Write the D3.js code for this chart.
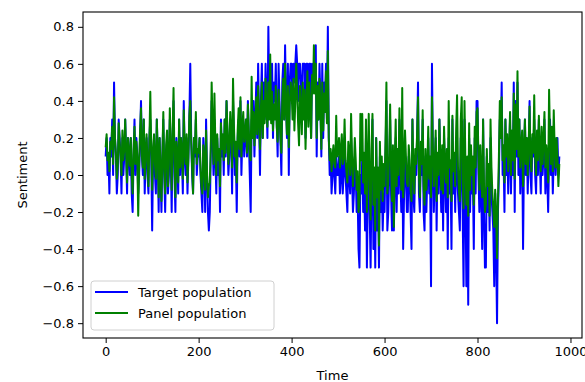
<!DOCTYPE html>
<html>
<head>
<meta charset="utf-8">
<script src="https://cdn.jsdelivr.net/npm/d3@7"></script>
<style>
  html, body { margin: 0; padding: 0; background: #ffffff; }
  svg { display: block; }
  text { font-family: "DejaVu Sans", sans-serif; fill: #000; }
</style>
</head>
<body>
<svg id="chart" width="585" height="382"></svg>
<script>
// Time step between stored samples
const timeStep = 2;

// Target population sentiment (in tenths), one value per stored time step
const targetTenths = [
  1,2,0,1,-1,2,1,3,0,5,2,1,-1,0,3,2,1,-1,2,0,1,3,1,-1,2,
  1,0,2,-1,-2,1,3,0,2,1,-1,0,2,4,1,0,3,-1,1,2,0,-1,2,3,1,
  -3,1,2,0,-1,3,1,-2,2,0,-2,1,3,0,-2,1,2,-1,0,3,1,-2,2,4,0,
  -2,2,1,-1,3,0,2,1,-1,4,1,0,2,-1,1,3,6,2,0,-1,2,1,3,0,1,
  1,2,0,-1,-2,2,1,-2,3,0,-2,-3,-2,1,4,2,0,3,1,-1,2,0,1,-2,3,
  1,2,0,3,1,4,2,0,1,3,2,-1,4,2,0,1,-2,2,3,1,4,0,2,3,1,
  2,3,1,4,2,0,-2,3,2,4,1,3,5,2,6,3,0,4,6,2,5,3,6,4,2,
  8,4,6,3,6,2,5,4,6,3,1,6,4,2,0,5,6,3,7,4,2,6,0,5,6,
  6,4,6,5,6,7,6,4,6,6,5,3,6,6,6,2,6,6,3,6,6,2,6,5,6,
  6,7,1,5,3,6,4,1,6,2,5,4,6,3,8,2,0,1,-1,0,1,0,-1,1,0,
  0,1,-1,0,1,-1,0,2,0,-1,-2,1,0,-1,2,0,-2,-1,1,0,-2,-1,-4,-5,0,
  -1,1,-2,0,-3,2,-5,-1,1,-2,-5,0,3,-4,-1,-5,2,-3,-1,-5,1,-2,0,-3,-1,
  -2,1,4,-3,-2,0,3,-1,-3,1,-3,0,2,-2,1,-1,3,0,-2,2,-4,-1,1,0,-2,
  -2,1,0,-2,-4,3,-1,-2,1,0,2,5,-1,-2,1,0,3,-2,-3,1,-2,0,2,-1,0,
  -6,6,1,-2,0,2,-3,1,-1,3,0,-2,1,-3,2,0,-2,1,-4,2,-1,0,-4,3,-1,
  1,-2,2,0,-1,-2,-3,2,1,-2,-6,3,-1,-6,0,-7,2,-2,1,-1,0,-4,2,-1,4,
  4,0,-2,1,-1,-4,3,-2,-5,-5,1,-2,0,-3,2,-1,-2,-3,-6,-1,-4,-8,-2,0,3,
  2,5,0,1,-2,3,0,2,-1,1,3,-1,2,0,5,-2,4,1,5,0,3,-1,1,2,-4,
  1,3,0,2,-1,1,4,0,-1,2,1,3,0,-1,2,0,3,1,-1,2,0,1,3,-1,1,
  0,-2,1,3,0,2,-1,1,2,0,1,2,0,1
];

// Panel population sentiment (in hundredths), one value per stored time step
const panelHundredths = [
  15,22,8,12,2,18,14,26,6,42,20,12,-2,5,28,18,10,0,24,8,14,30,12,-4,20,
  12,5,20,0,-10,14,26,6,18,10,-22,6,24,36,10,4,30,-2,12,22,6,-6,18,45,14,
  -8,14,22,6,-2,30,12,-12,20,4,-14,10,34,2,-10,16,24,-6,6,36,14,-8,22,47,8,
  -12,18,10,-4,30,4,20,12,-2,35,14,6,22,-4,10,32,40,18,4,-10,20,12,34,6,14,
  12,20,4,-6,-10,16,8,-8,24,2,-12,-6,-4,14,50,26,6,44,16,0,22,8,14,-6,28,
  14,22,8,30,12,40,24,6,16,34,22,4,52,26,10,18,-4,24,36,14,42,10,26,34,18,
  22,30,12,38,24,10,8,53,20,34,16,28,42,22,48,30,14,36,50,20,40,28,52,34,26,
  50,30,65,28,45,24,38,30,48,26,18,46,34,20,12,40,52,30,60,36,22,48,15,38,50,
  46,30,52,24,40,60,44,28,16,48,36,22,50,30,46,14,38,56,26,50,34,20,54,44,70,
  44,60,20,48,30,52,36,14,50,24,44,34,56,28,67,20,8,14,2,10,16,6,4,32,10,
  12,20,4,14,22,6,10,30,8,2,-4,18,12,0,33,10,-6,4,20,8,-8,2,-20,-14,33,
  8,33,-4,12,-10,30,-20,6,33,-6,-24,14,33,-16,4,-30,20,-12,4,-38,18,-8,10,-14,6,
  -6,18,50,-10,-4,12,38,4,-14,16,-28,8,30,-6,14,0,36,10,-8,47,-12,6,24,10,-4,
  -6,16,8,-8,-14,30,2,-10,14,6,22,42,0,-12,18,6,35,-6,-16,14,-8,4,26,-2,10,
  -12,42,14,-6,6,24,-14,12,0,30,8,-8,16,-10,26,6,-4,14,-12,40,4,8,-14,32,2,
  12,-6,24,43,4,-8,-14,30,42,-4,-18,40,6,-16,10,-22,28,-8,16,0,10,-16,26,4,34,
  36,10,-8,16,0,-12,30,-6,-20,-16,14,-6,6,-22,30,4,-10,-18,-28,-8,-20,-45,-14,10,40,
  20,42,8,16,-4,30,10,22,2,14,34,0,24,8,44,-2,38,14,56,10,30,4,16,24,-6,
  14,30,6,20,0,16,37,8,2,22,12,43,10,0,24,8,32,14,2,26,6,18,34,4,16,
  8,-4,46,20,6,26,2,35,14,4,20,10,-6,6
];

const xTicks = [0, 200, 400, 600, 800, 1000];
const yTicks = [-0.8, -0.6, -0.4, -0.2, 0.0, 0.2, 0.4, 0.6, 0.8];
const seriesNames = ["Target population", "Panel population"];
const seriesColors = ["#0000ff", "#008000"];

const target = targetTenths.map((v, i) => ({ t: i * timeStep, v: v / 10 }));
const panel = panelHundredths.map((v, i) => ({ t: i * timeStep, v: v / 100 }));

const margin = { left: 83, right: 3, top: 12, bottom: 44 };
const W = 585, H = 382;
const svg = d3.select("#chart");
svg.append("rect").attr("width", W).attr("height", H).attr("fill", "#fff");

const tMax = d3.max(target, d => d.t);
const xPad = tMax * 0.05;
const x = d3.scaleLinear().domain([-xPad, tMax + xPad]).range([margin.left, W - margin.right]);
const y = d3.scaleLinear().domain([-0.88, 0.88]).range([H - margin.bottom, margin.top]);

const fmtY = v => (v < 0 ? "\u2212" : "") + Math.abs(v).toFixed(1);

const line = d3.line().x(d => x(d.t)).y(d => y(d.v));

const plot = svg.append("g");
plot.append("path").datum(target).attr("d", line)
  .attr("fill", "none").attr("stroke", seriesColors[0]).attr("stroke-width", 2)
  .attr("stroke-linejoin", "round");
plot.append("path").datum(panel).attr("d", line)
  .attr("fill", "none").attr("stroke", seriesColors[1]).attr("stroke-width", 2)
  .attr("stroke-linejoin", "round");

// Axes
const xAxis = d3.axisBottom(x).tickValues(xTicks).tickSizeOuter(0).tickSize(5).tickPadding(4).tickFormat(d3.format("d"));
const yAxis = d3.axisLeft(y).tickValues(yTicks).tickSizeOuter(0).tickSize(5).tickPadding(4).tickFormat(fmtY);

const gx = svg.append("g").attr("transform", `translate(0,${H - margin.bottom})`).call(xAxis);
const gy = svg.append("g").attr("transform", `translate(${margin.left},0)`).call(yAxis);
[gx, gy].forEach(g => {
  g.select(".domain").remove();
  g.selectAll(".tick line").attr("stroke", "#000").attr("stroke-width", 1);
  g.selectAll(".tick text").attr("font-size", "13px").attr("font-family", "DejaVu Sans, sans-serif").attr("fill", "#222");
});

// Frame
svg.append("rect")
  .attr("x", margin.left).attr("y", margin.top)
  .attr("width", W - margin.right - margin.left).attr("height", H - margin.bottom - margin.top)
  .attr("fill", "none").attr("stroke", "#000").attr("stroke-width", 1.1);

// Axis labels
svg.append("text").attr("x", (margin.left + W - margin.right) / 2).attr("y", 380)
  .attr("text-anchor", "middle").attr("font-size", "13px").attr("fill", "#222").text("Time");
svg.append("text").attr("transform", `translate(27,${(margin.top + H - margin.bottom) / 2}) rotate(-90)`)
  .attr("text-anchor", "middle").attr("font-size", "13px").attr("fill", "#222").text("Sentiment");

// Legend
const lg = svg.append("g");
lg.append("rect").attr("x", 91).attr("y", 281).attr("width", 183).attr("height", 49).attr("rx", 3)
  .attr("fill", "#fff").attr("fill-opacity", 0.8).attr("stroke", "#d0d0d0").attr("stroke-width", 1);
seriesNames.forEach((name, i) => {
  const ly = 292 + i * 21;
  lg.append("line").attr("x1", 95).attr("x2", 128).attr("y1", ly).attr("y2", ly)
    .attr("stroke", seriesColors[i]).attr("stroke-width", 2);
  lg.append("text").attr("x", 138).attr("y", ly).attr("dy", "0.35em")
    .attr("font-size", "13px").attr("fill", "#222").text(name);
});
</script>
</body>
</html>
